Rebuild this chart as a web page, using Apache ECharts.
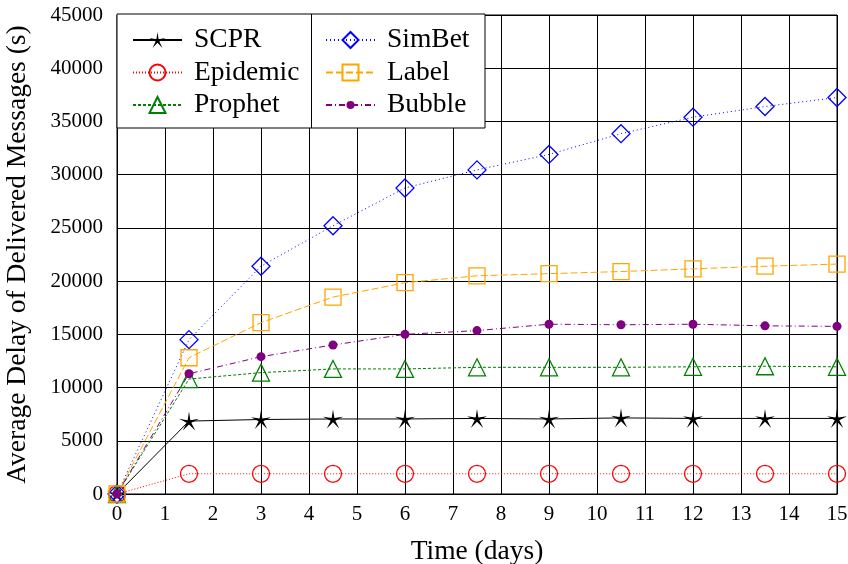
<!DOCTYPE html>
<html>
<head>
<meta charset="utf-8">
<title>Average Delay of Delivered Messages</title>
<script src="https://cdn.jsdelivr.net/npm/echarts@6/dist/echarts.min.js"></script>
<style>
  html, body { margin: 0; padding: 0; background: #fff; }
  #chart { width: 848px; height: 564px; }
</style>
</head>
<body>
<div id="chart"></div>
<script>
// Simulation time (days) at which each routing protocol was sampled
const days = [0, 1.5, 3, 4.5, 6, 7.5, 9, 10.5, 12, 13.5, 15];

// Average delay of delivered messages (s) per protocol
const scpr     = [0, 6850, 7000, 7050, 7050, 7100, 7050, 7150, 7100, 7100, 7100];
const epidemic = [0, 1900, 1900, 1900, 1900, 1900, 1900, 1900, 1900, 1900, 1900];
const prophet  = [0, 10800, 11400, 11750, 11750, 11900, 11900, 11900, 11950, 12000, 11950];
const simbet   = [0, 14500, 21400, 25200, 28750, 30450, 31900, 33850, 35400, 36400, 37250];
const label    = [0, 12800, 16100, 18500, 19850, 20500, 20700, 20900, 21150, 21400, 21600];
const bubble   = [0, 11300, 12900, 14000, 15000, 15350, 15950, 15900, 15950, 15800, 15750];

const yTicks = [0, 5000, 10000, 15000, 20000, 25000, 30000, 35000, 40000, 45000];

const starPath = 'path://M100,0 L113,82 L195,69 L122,107 L159,181 L100,122 L41,181 L78,107 L5,69 L87,82 Z';

const FONT = '"Liberation Serif", "Times New Roman", serif';

function pairs(values) {
  return days.map((d, i) => [d, values[i]]);
}

function lineSeries(name, values, color, dash, symbol, size, filled) {
  return {
    name: name,
    type: 'line',
    data: pairs(values),
    symbol: symbol,
    symbolSize: size,
    symbolKeepAspect: true,
    showAllSymbol: true,
    lineStyle: { color: color, width: 1, type: dash },
    itemStyle: filled
      ? { color: color, borderColor: color, borderWidth: 0 }
      : { color: 'rgba(255,255,255,0)', borderColor: color, borderWidth: 1.3 },
    emphasis: { disabled: true },
    animation: false
  };
}

// One legend entry per box row, so each key can carry its own marker size
const rowCenters = [39.5, 72, 104.5];
function legendEntry(name, left, row, markerSize) {
  return {
    orient: 'vertical',
    left: left,
    top: rowCenters[row] - 13.5,
    padding: 0,
    itemWidth: 49,
    itemHeight: markerSize,
    z: 20,
    selectedMode: false,
    data: [name],
    textStyle: { fontFamily: FONT, fontSize: 27.5, lineHeight: 27, color: '#000', padding: [0, 0, 0, 7] }
  };
}

const chart = echarts.init(document.getElementById('chart'), null, { renderer: 'canvas' });

chart.setOption({
  backgroundColor: '#fff',
  animation: false,
  textStyle: { fontFamily: FONT },
  grid: {
    left: 117, right: 11, top: 15, bottom: 70,
    outerBoundsMode: 'none',
    containLabel: false,
    show: true, borderColor: '#000', borderWidth: 1, backgroundColor: 'transparent'
  },
  xAxis: {
    type: 'value',
    min: 0, max: 15, interval: 1,
    name: 'Time (days)',
    nameLocation: 'middle',
    nameGap: 44,
    nameTextStyle: { fontFamily: FONT, fontSize: 27.5, color: '#000' },
    axisLine: { show: true, lineStyle: { color: '#000', width: 1 } },
    axisTick: { show: false },
    axisLabel: { fontFamily: FONT, fontSize: 21, color: '#000', margin: 10 },
    splitLine: { show: true, lineStyle: { color: '#000', width: 1 } }
  },
  yAxis: {
    type: 'value',
    min: yTicks[0], max: yTicks[yTicks.length - 1], interval: yTicks[1] - yTicks[0],
    name: 'Average Delay of Delivered Messages (s)',
    nameLocation: 'middle',
    nameGap: 85,
    nameTextStyle: { fontFamily: FONT, fontSize: 27.5, color: '#000' },
    axisLine: { show: true, lineStyle: { color: '#000', width: 1 } },
    axisTick: { show: false },
    axisLabel: { fontFamily: FONT, fontSize: 21, color: '#000', margin: 14, formatter: v => String(v) },
    splitLine: { show: true, lineStyle: { color: '#000', width: 1 } }
  },
  graphic: [
    {
      type: 'rect', z: 10,
      shape: { x: 117, y: 14, width: 368, height: 114 },
      style: { fill: '#fff', stroke: '#000', lineWidth: 1 }
    },
    {
      type: 'line', z: 11,
      shape: { x1: 311.5, y1: 14, x2: 311.5, y2: 128 },
      style: { stroke: '#000', lineWidth: 1 }
    }
  ],
  legend: [
    legendEntry('SCPR', 132, 0, 20),
    legendEntry('Epidemic', 132, 1, 20),
    legendEntry('Prophet', 132, 2, 20),
    legendEntry('SimBet', 325, 0, 20),
    legendEntry('Label', 325, 1, 20),
    legendEntry('Bubble', 325, 2, 10)
  ],
  series: [
    lineSeries('SCPR', scpr, '#000000', 'solid', starPath, 20, true),
    lineSeries('Epidemic', epidemic, '#ff0000', [1, 2], 'circle', 17, false),
    lineSeries('Prophet', prophet, '#008000', [3, 2], 'triangle', 17, false),
    lineSeries('SimBet', simbet, '#0000ff', [1, 3], 'diamond', 18, false),
    lineSeries('Label', label, '#ffa500', [7, 3], 'rect', 16, false),
    lineSeries('Bubble', bubble, '#800080', [6, 3, 1, 3], 'circle', 9, true)
  ]
});
</script>
</body>
</html>
